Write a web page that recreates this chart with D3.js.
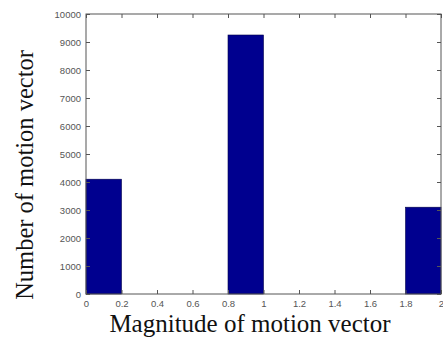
<!DOCTYPE html>
<html>
<head>
<meta charset="utf-8">
<script src="https://cdn.jsdelivr.net/npm/d3@7"></script>
<style>
  html, body { margin: 0; padding: 0; background: #fff; }
  svg { display: block; }
  .tick text { font-family: "Liberation Sans", Arial, sans-serif; font-size: 9.5px; fill: #555; }
</style>
</head>
<body>
<svg id="chart" width="443" height="350"></svg>
<script>
// Histogram bins (lower edge, upper edge) and counts
const binStart = [0, 0.8, 1.8];
const binEnd   = [0.2, 1.0, 2.0];
const counts   = [4100, 9250, 3100];
const xTicks = [0, 0.2, 0.4, 0.6, 0.8, 1, 1.2, 1.4, 1.6, 1.8, 2];
const yTicks = [0, 1000, 2000, 3000, 4000, 5000, 6000, 7000, 8000, 9000, 10000];

const svg = d3.select("#chart");
const plotL = 86, plotR = 441, plotT = 14, plotB = 294;

const x = d3.scaleLinear().domain([0, 2]).range([plotL, plotR]);
const y = d3.scaleLinear().domain([0, 10000]).range([plotB, plotT]);

const fmtX = d => d3.format("")(d);

// bars
svg.append("g").selectAll("rect")
  .data(counts)
  .join("rect")
  .attr("x", (d, i) => x(binStart[i]))
  .attr("width", (d, i) => x(binEnd[i]) - x(binStart[i]))
  .attr("y", d => y(d))
  .attr("height", d => y(0) - y(d))
  .attr("fill", "#00008f")
  .attr("stroke", "#00004a")
  .attr("stroke-width", 0.6);

const axisColor = "#555";
function styleAxis(g) {
  g.select(".domain").remove();
  g.selectAll(".tick line").attr("stroke", axisColor);
}

// bottom axis with inward ticks
svg.append("g").attr("transform", `translate(0,${plotB})`)
  .call(d3.axisBottom(x).tickValues(xTicks).tickSize(-4).tickPadding(6).tickFormat(fmtX))
  .call(styleAxis);
// top axis ticks
svg.append("g").attr("transform", `translate(0,${plotT})`)
  .call(d3.axisTop(x).tickValues(xTicks).tickSize(-4).tickFormat(""))
  .call(styleAxis);
// left axis
svg.append("g").attr("transform", `translate(${plotL},0)`)
  .call(d3.axisLeft(y).tickValues(yTicks).tickSize(-4).tickPadding(5).tickFormat(d3.format("d")))
  .call(styleAxis);
// right axis ticks
svg.append("g").attr("transform", `translate(${plotR},0)`)
  .call(d3.axisRight(y).tickValues(yTicks).tickSize(-4).tickFormat(""))
  .call(styleAxis);

// frame
svg.append("rect")
  .attr("x", plotL).attr("y", plotT)
  .attr("width", plotR - plotL).attr("height", plotB - plotT)
  .attr("fill", "none").attr("stroke", axisColor).attr("stroke-width", 1);

// axis titles
svg.append("text")
  .attr("x", 250).attr("y", 332)
  .attr("text-anchor", "middle")
  .attr("font-family", "'Liberation Serif', 'Times New Roman', serif")
  .attr("font-size", 25).attr("fill", "#111")
  .text("Magnitude of motion vector");

svg.append("text")
  .attr("transform", "translate(33,175) rotate(-90)")
  .attr("text-anchor", "middle")
  .attr("font-family", "'Liberation Serif', 'Times New Roman', serif")
  .attr("font-size", 24.5).attr("fill", "#111")
  .text("Number of motion vector");
</script>
</body>
</html>
